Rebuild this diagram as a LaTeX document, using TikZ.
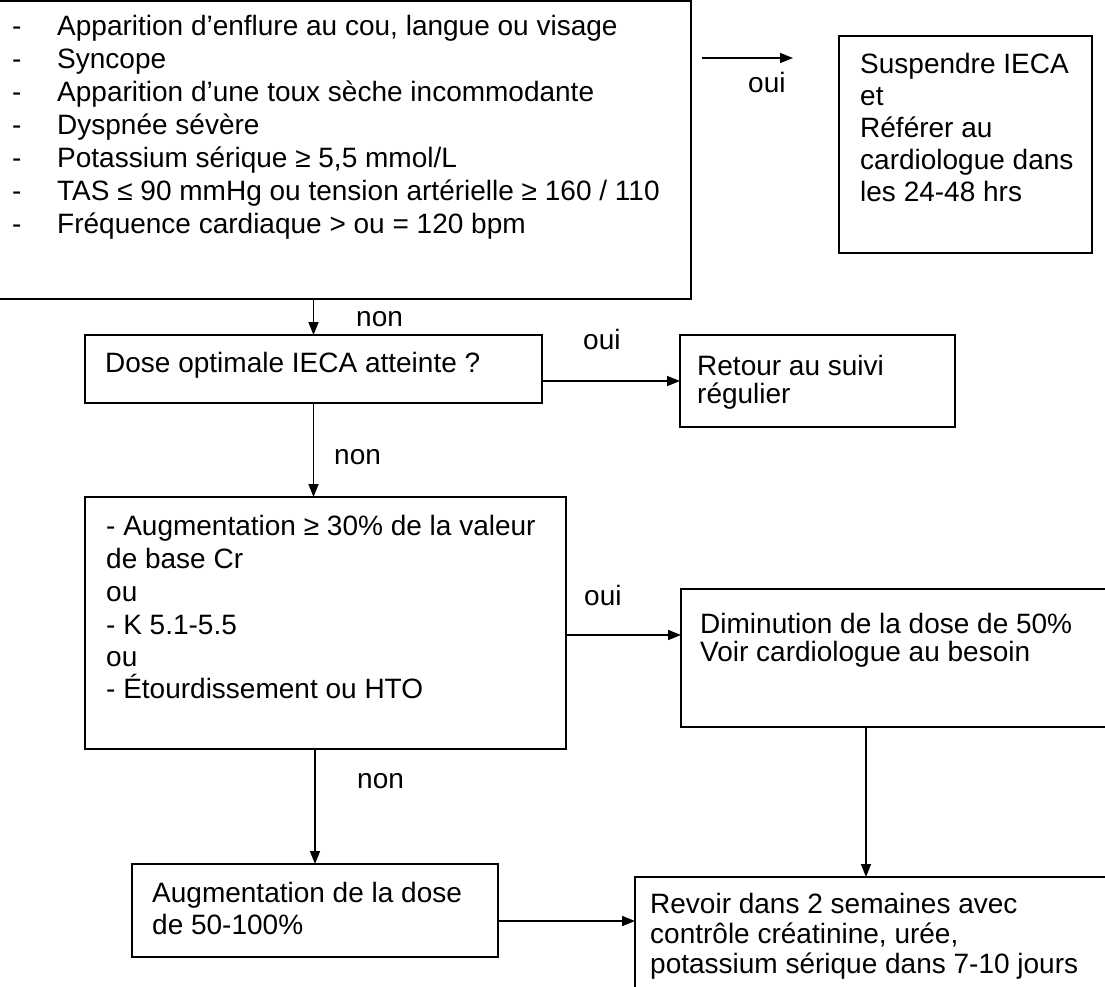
\documentclass[tikz,border=0pt]{standalone}
\usepackage{fontspec}
\setmainfont{Liberation Sans}
\usetikzlibrary{arrows.meta}

\newlength{\du}
\setlength{\du}{1\unitlength}
\newcommand{\tiret}[1]{\makebox[45\du][l]{-}#1}

\tikzset{
  boite/.style={draw=black, fill=white, line width=2.2\du, inner sep=0pt, outer sep=0pt},
  texte/.style={anchor=base west, inner sep=0pt, font=\fontsize{28}{32}\selectfont},
  fleche/.style={draw=black, line width=1.6\du, -{Triangle[length=13pt,width=10pt]}},
}

\begin{document}
\begin{tikzpicture}
\pgftransformxscale{1.000000}
\pgftransformyscale{-1.000000}
\useasboundingbox (0\du,0\du) rectangle (1105\du,986\du);
\fill[white] (0\du,0\du) rectangle (1105\du,986\du);
% boites
\node[boite, minimum width=696\du, minimum height=298\du] (sympt) at (343.000000\du,150.000000\du) {};
\node[boite, minimum width=253\du, minimum height=217\du] (susp) at (965.500000\du,144.500000\du) {};
\node[boite, minimum width=457\du, minimum height=68\du] (dose) at (313.500000\du,369.000000\du) {};
\node[boite, minimum width=275\du, minimum height=92\du] (retour) at (817.500000\du,381.000000\du) {};
\node[boite, minimum width=481\du, minimum height=252\du] (augm) at (325.500000\du,623.000000\du) {};
\node[boite, minimum width=434\du, minimum height=138\du] (dimin) at (898.000000\du,658.000000\du) {};
\node[boite, minimum width=366\du, minimum height=93\du] (augdose) at (315.000000\du,910.500000\du) {};
\node[boite, minimum width=480\du, minimum height=123\du] (revoir) at (875.000000\du,938.500000\du) {};
% criteres
\node[texte] (s1) at (12.000000\du,35.000000\du){\tiret{Apparition d’enflure au cou, langue ou visage}};
\node[texte] (s2) at (12.000000\du,68.000000\du){\tiret{Syncope}};
\node[texte] (s3) at (12.000000\du,101.000000\du){\tiret{Apparition d’une toux sèche incommodante}};
\node[texte] (s4) at (12.000000\du,134.000000\du){\tiret{Dyspnée sévère}};
\node[texte] (s5) at (12.000000\du,167.000000\du){\tiret{Potassium sérique ≥ 5,5 mmol/L}};
\node[texte] (s6) at (12.000000\du,200.000000\du){\tiret{TAS ≤ 90 mmHg ou tension artérielle ≥ 160 / 110}};
\node[texte] (s7) at (12.000000\du,233.000000\du){\tiret{Fréquence cardiaque > ou = 120 bpm}};
% suspendre
\node[texte] (p1) at (860.000000\du,73.000000\du){Suspendre IECA};
\node[texte] (p2) at (860.000000\du,105.000000\du){et};
\node[texte] (p3) at (860.000000\du,137.000000\du){Référer au};
\node[texte] (p4) at (860.000000\du,169.000000\du){cardiologue dans};
\node[texte] (p5) at (860.000000\du,201.000000\du){les 24-48 hrs};
% dose optimale
\node[texte] (d1) at (105.000000\du,372.000000\du){Dose optimale IECA atteinte ?};
\node[texte] (r1) at (697.000000\du,375.000000\du){Retour au suivi};
\node[texte] (r2) at (697.000000\du,403.000000\du){régulier};
% augmentation Cr
\node[texte] (a1) at (106.000000\du,535.000000\du){- Augmentation ≥ 30\% de la valeur};
\node[texte] (a2) at (106.000000\du,568.000000\du){de base Cr};
\node[texte] (a3) at (106.000000\du,601.000000\du){ou};
\node[texte] (a4) at (106.000000\du,634.000000\du){- K 5.1-5.5};
\node[texte] (a5) at (106.000000\du,666.000000\du){ou};
\node[texte] (a6) at (106.000000\du,698.000000\du){- Étourdissement ou HTO};
\node[texte] (m1) at (700.000000\du,633.000000\du){Diminution de la dose de 50\%};
\node[texte] (m2) at (700.000000\du,661.000000\du){Voir cardiologue au besoin};
% suite
\node[texte] (g1) at (152.000000\du,902.000000\du){Augmentation de la dose};
\node[texte] (g2) at (152.000000\du,934.000000\du){de 50-100\%};
\node[texte] (v1) at (650.000000\du,913.000000\du){Revoir dans 2 semaines avec};
\node[texte] (v2) at (650.000000\du,943.000000\du){contrôle créatinine, urée,};
\node[texte] (v3) at (650.000000\du,973.000000\du){potassium sérique dans 7-10 jours};
% etiquettes
\node[texte] (oui1) at (748.000000\du,92.000000\du){oui};
\node[texte] (non1) at (356.000000\du,326.000000\du){non};
\node[texte] (oui2) at (583.000000\du,349.000000\du){oui};
\node[texte] (non2) at (334.000000\du,464.000000\du){non};
\node[texte] (oui3) at (584.000000\du,605.000000\du){oui};
\node[texte] (non3) at (357.000000\du,788.000000\du){non};
% fleches
\coordinate (ouiA) at (702.000000\du,58.000000\du);
\coordinate (ouiB) at (793.000000\du,58.000000\du);
\coordinate (rangB) at (0.000000\du,635.000000\du);
\coordinate (rangC) at (0.000000\du,921.000000\du);
\coordinate (colC) at (866.000000\du,0.000000\du);
\draw[fleche] (ouiA) -- (ouiB);
\draw[fleche] (sympt.south -| dose.north) -- (dose.north);
\draw[fleche] (dose.east |- retour.west) -- (retour.west);
\draw[fleche] (dose.south) -- (dose.south |- augm.north);
\draw[fleche] (augm.east |- rangB) -- (dimin.west |- rangB);
\draw[fleche] (augm.south -| augdose.north) -- (augdose.north);
\draw[fleche] (dimin.south -| colC) -- (revoir.north -| colC);
\draw[fleche] (augdose.east |- rangC) -- (revoir.west |- rangC);
\end{tikzpicture}
\end{document}
